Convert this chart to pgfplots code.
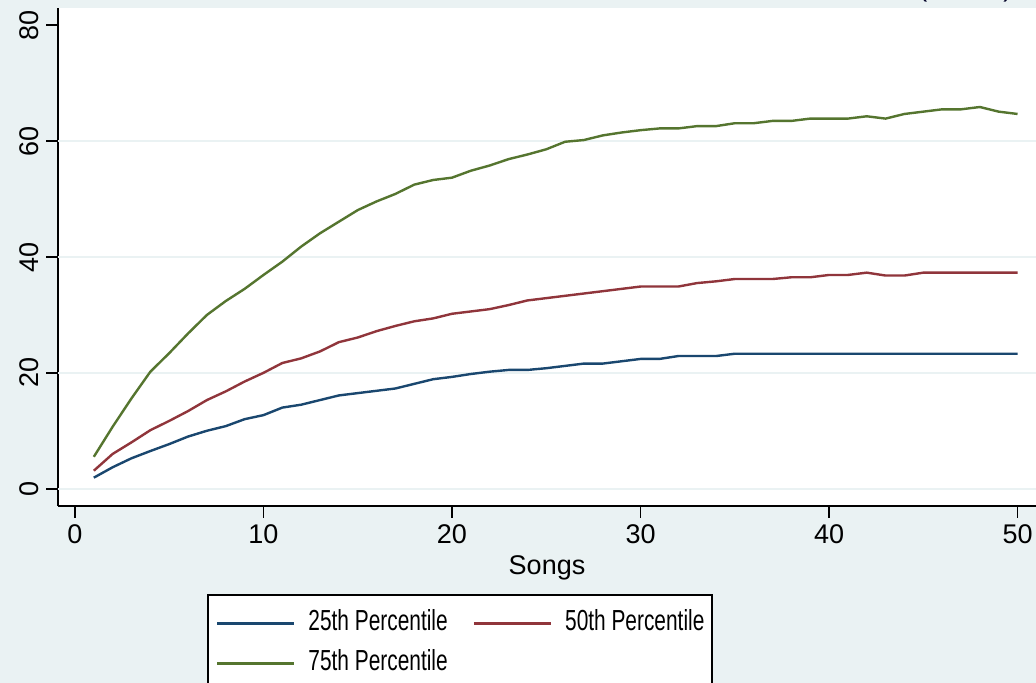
\documentclass[border=0pt]{standalone}
\usepackage{fontspec}
\setmainfont{Liberation Sans}
\newfontfamily\legfont{Liberation Sans}[FakeStretch=0.72]
\usepackage{pgfplots}
\usepackage{pgfplotstable}
\pgfplotsset{compat=1.18}
\definecolor{bgc}{RGB}{234,242,243}
\definecolor{gridc}{RGB}{234,242,243}
\definecolor{snavy}{RGB}{26,71,111}
\definecolor{smaroon}{RGB}{144,53,59}
\definecolor{sgreen}{RGB}{85,117,47}
\pgfplotstableread{
x p25 p50 p75
1 1.9 3.1 5.5
2 3.7 6.0 10.7
3 5.25 8.0 15.6
4 6.5 10.1 20.2
5 7.7 11.7 23.4
6 9.0 13.4 26.8
7 10.0 15.3 30.0
8 10.8 16.8 32.4
9 12.0 18.5 34.5
10 12.7 20.0 36.9
11 14.0 21.7 39.2
12 14.5 22.5 41.8
13 15.3 23.7 44.1
14 16.1 25.3 46.1
15 16.5 26.1 48.1
16 16.9 27.2 49.6
17 17.3 28.1 50.9
18 18.1 28.9 52.5
19 18.9 29.4 53.3
20 19.3 30.2 53.7
21 19.8 30.6 54.9
22 20.2 31.0 55.8
23 20.5 31.7 56.9
24 20.5 32.5 57.7
25 20.8 32.9 58.6
26 21.2 33.3 59.9
27 21.6 33.7 60.2
28 21.6 34.1 61.0
29 22.0 34.5 61.5
30 22.4 34.9 61.9
31 22.4 34.9 62.2
32 22.9 34.9 62.2
33 22.9 35.5 62.6
34 22.9 35.8 62.6
35 23.3 36.2 63.1
36 23.3 36.2 63.1
37 23.3 36.2 63.5
38 23.3 36.5 63.5
39 23.3 36.5 63.9
40 23.3 36.9 63.9
41 23.3 36.9 63.9
42 23.3 37.3 64.3
43 23.3 36.8 63.9
44 23.3 36.8 64.7
45 23.3 37.3 65.1
46 23.3 37.3 65.5
47 23.3 37.3 65.5
48 23.3 37.3 65.9
49 23.3 37.3 65.1
50 23.3 37.3 64.7
}\datatable
\begin{document}
\begin{tikzpicture}
\useasboundingbox (0,0) rectangle (518pt,341.5pt);
\fill[bgc] (0,0) rectangle (518pt,341.5pt);
\clip (0,0) rectangle (518pt,341.5pt);
\node[anchor=base west, inner sep=0pt, text=black!85!blue, font=\fontsize{13.5}{16}\selectfont] at (459pt,343.3pt) {(\hspace{38pt})};
\begin{axis}[
  at={(29pt,88.65pt)}, anchor=south west,
  scale only axis, width=489pt, height=248.85pt,
  xmin=-0.9, xmax=50.98, ymin=-2.94, ymax=83.0,
  axis background/.style={fill=white},
  axis x line*=bottom, axis y line*=left,
  axis line style={line width=0.9pt, black, -},
  tick align=outside, major tick length=6pt,
  tick style={line width=0.9pt, black},
  xtick={0,10,...,50}, ytick={0,20,...,80},
  minor tick num=0,
  extra y ticks={0,20,40,60}, extra y tick labels={},
  extra y tick style={ymajorgrids=true, major tick length=0pt},
  grid style={gridc, line width=1pt},
  tick label style={font=\fontsize{13.5}{16}\selectfont},
  /pgf/number format/assume math mode=true,
  yticklabel style={rotate=90, anchor=south},
  xlabel={Songs},
  xlabel style={at={(axis description cs:0.5,-0.1392)}, anchor=base, font=\fontsize{13.5}{16}\selectfont},
  legend columns=2,
  legend cell align=left,
  legend image code/.code={\draw[#1] (0pt,0pt) -- (38.5pt,0pt);},
  legend style={at={(axis description cs:0.1524,-0.1774)}, anchor=north west,
    draw=black, line width=1pt, fill=white,
    inner xsep=4pt, inner ysep=7.5pt,
    row sep=6.5pt,
    nodes={inner sep=0pt, text height=10.5pt, text depth=3pt, font=\fontsize{14.5}{16}\legfont},
    /tikz/every odd column/.style={column sep=6.5pt},
    /tikz/every even column/.style={column sep=12.5pt}},
]
\addplot[snavy, line width=1.2pt] table[x=x, y=p25] {\datatable};
\addlegendentry{25th Percentile}
\addplot[smaroon, line width=1.2pt] table[x=x, y=p50] {\datatable};
\addlegendentry{50th Percentile\hspace{3pt}}
\addplot[sgreen, line width=1.2pt] table[x=x, y=p75] {\datatable};
\addlegendentry{75th Percentile}
\end{axis}
\end{tikzpicture}
\end{document}
